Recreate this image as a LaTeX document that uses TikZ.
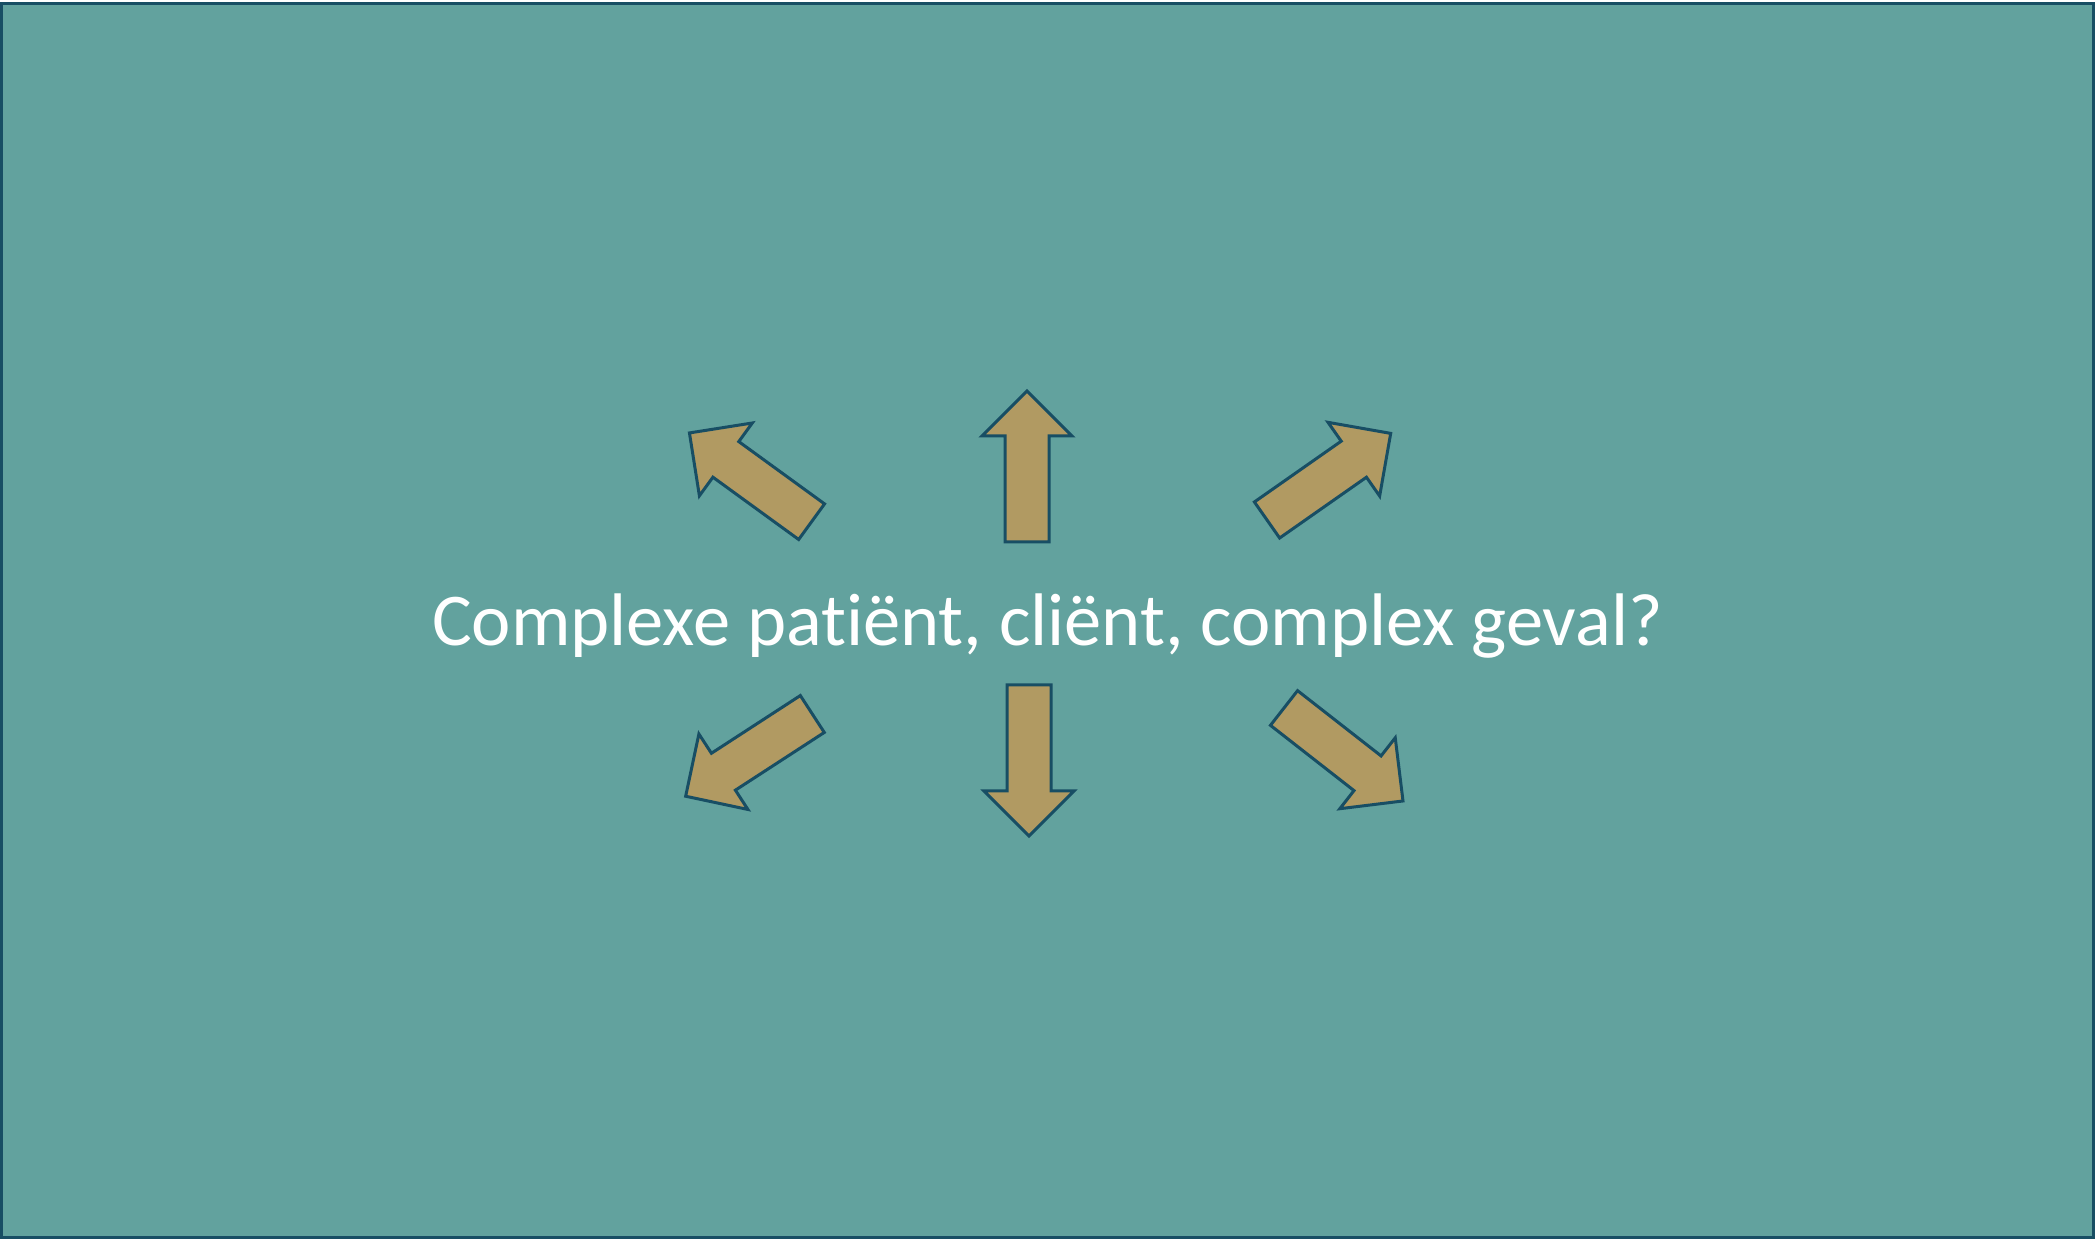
\documentclass[tikz,border=0pt]{standalone}
\usepackage{fontspec}
\setmainfont{Carlito}[Ligatures=CommonOff]
\usetikzlibrary{shapes.arrows}
\definecolor{slidebg}{RGB}{98,162,158}
\definecolor{slideedge}{RGB}{24,78,100}
\definecolor{arrowfill}{RGB}{177,154,98}
\tikzset{
  bigarrow/.style={draw=slideedge, fill=arrowfill, line width=3pt,
    shape=single arrow, single arrow head extend=23pt,
    inner xsep=0pt, inner ysep=20.5pt, minimum width=87pt,
    minimum height=151pt, anchor=tail},
}
\begin{document}
\begin{tikzpicture}[x=1pt,y=1pt] % complex case slide
\tikzstyle{every node}+=[outer sep=0pt]
\useasboundingbox (0,0) rectangle (2095,1240);
\fill [white] (0,0) rectangle (2095,1240);
\draw [slideedge,fill=slidebg,line width=3pt] (1.5,3) rectangle (2093.5,1236);
\node [anchor=base,text=white,font=\fontsize{74.5}{90}\selectfont] (question) at (1047.5,594) {Complexe patiënt, cliënt, complex geval?};
\node [bigarrow,rotate=90] (up) at (1027,698) {};
\node [bigarrow,rotate=-90] (down) at (1029,555) {};
\node [bigarrow,rotate=144] (upleft) at (811.6,718.3) {};
\node [bigarrow,rotate=35] (upright) at (1267,720) {};
\node [bigarrow,rotate=213] (downleft) at (812.3,526) {};
\node [bigarrow,rotate=-38] (downright) at (1284,532) {};
\end{tikzpicture}
\end{document}
